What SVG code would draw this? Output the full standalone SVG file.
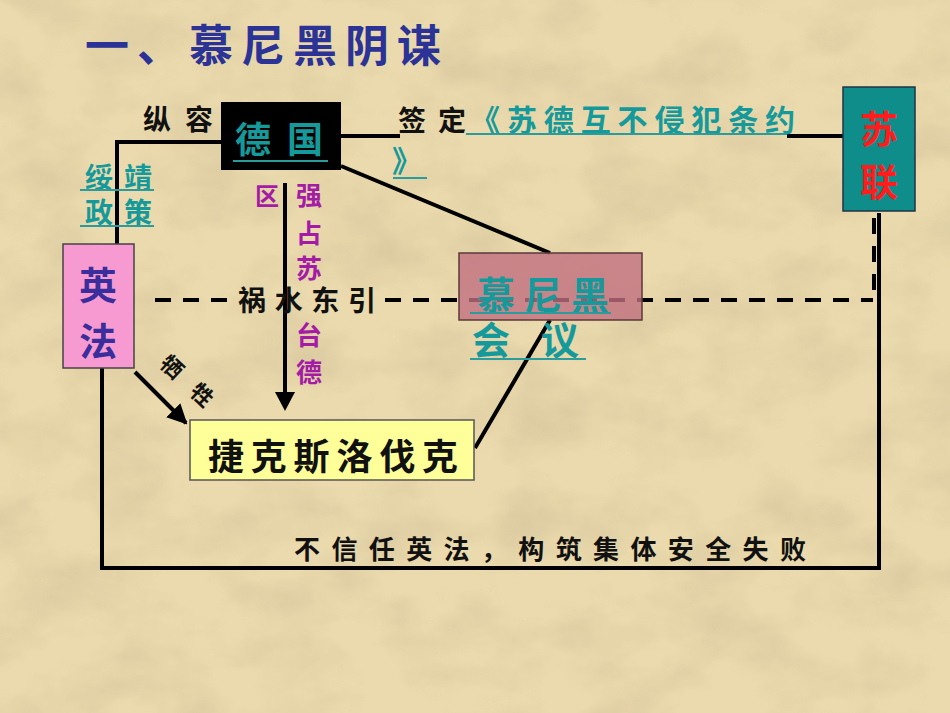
<svg xmlns="http://www.w3.org/2000/svg" width="950" height="713" viewBox="0 0 950 713">
<defs>
<style>
text{font-family:"Noto Sans CJK SC","Noto Sans",sans-serif;font-weight:bold}
.blk{fill:#111}
.teal{fill:#16999a}
.pur{fill:#a41ca6}
.ln{stroke:#000;stroke-width:4;fill:none}
.ul{stroke:#2a9c9c;stroke-width:2;fill:none}
.dash{stroke:#000;stroke-width:4;fill:none;stroke-dasharray:16 12}
</style>
<filter id="tex" x="0" y="0" width="100%" height="100%">
<feTurbulence type="fractalNoise" baseFrequency="0.012 0.018" numOctaves="4" seed="7"/>
<feColorMatrix type="matrix" values="0 0 0 0 0.62  0 0 0 0 0.50  0 0 0 0 0.30  0 0 0 1.6 -0.62"/>
</filter>
<marker id="ah" viewBox="0 0 10 10" refX="9" refY="5" markerWidth="5" markerHeight="5" orient="auto" markerUnits="strokeWidth">
<path d="M0,0 L10,5 L0,10 z" fill="#000"/>
</marker>
</defs>
<rect width="950" height="713" fill="#eadaad"/>
<rect width="950" height="713" filter="url(#tex)" opacity="0.6"/>

<g id="title"><text x="85" y="62" font-size="44" fill="#2b3397" textLength="356" lengthAdjust="spacing">一、慕尼黑阴谋</text></g>

<g id="connectors">
<polyline class="ln" points="221,142 117,142 117,245"/>
<line class="ln" x1="341" y1="136" x2="400" y2="136"/>
<line class="ln" x1="787" y1="136" x2="843" y2="136"/>
<line class="ln" x1="341" y1="166" x2="550" y2="253"/>
<line class="ln" x1="550" y1="320" x2="475" y2="448"/>
<line class="ln" x1="285" y1="183" x2="285" y2="396"/>
<path d="M275,392 L295,392 L285,411 z" fill="#000"/>
<line class="ln" x1="135" y1="372" x2="186" y2="423" stroke-width="3" marker-end="url(#ah)"/>
<polyline class="ln" points="102,368 102,568 879,568 879,213"/>
<line class="dash" x1="155" y1="300" x2="236" y2="300"/>
<line class="dash" x1="385" y1="300" x2="873" y2="300"/>
<line class="dash" x1="874" y1="218" x2="874" y2="290"/>
</g>

<g id="label-zongrong"><text class="blk" x="143" y="130" font-size="28" textLength="70" lengthAdjust="spacing">纵容</text></g>
<g id="label-suijing">
<text class="teal" x="85" y="188" font-size="28" textLength="67" lengthAdjust="spacing">绥靖</text>
<line class="ul" x1="80" y1="190" x2="154" y2="190"/>
<text class="teal" x="85" y="223" font-size="28" textLength="67" lengthAdjust="spacing">政策</text>
<line class="ul" x1="80" y1="226" x2="154" y2="226"/>
</g>
<g id="label-qiang">
<text class="pur" x="255" y="205" font-size="24">区</text>
<g class="pur" font-size="26" text-anchor="middle">
<text x="309" y="205">强</text>
<text x="309" y="243">占</text>
<text x="309" y="278">苏</text>
<text x="309" y="345">台</text>
<text x="309" y="382">德</text>
</g>
</g>
<g id="label-huoshui"><text class="blk" x="238" y="311" font-size="28" textLength="138" lengthAdjust="spacing">祸水东引</text></g>
<g id="label-xisheng"><text class="blk" x="187" y="389" font-size="22" text-anchor="middle" textLength="63" lengthAdjust="spacing" transform="rotate(43 187 381)">牺牲</text></g>
<g id="label-qianding">
<text class="blk" x="398" y="131" font-size="28" textLength="68" lengthAdjust="spacing">签定</text>
<text class="teal" x="470" y="131" font-size="30" textLength="325" lengthAdjust="spacing">《苏德互不侵犯条约</text>
<line class="ul" x1="466" y1="134" x2="787" y2="134"/>
<text class="teal" x="392" y="172" font-size="30">》</text>
<line class="ul" x1="393" y1="178" x2="427" y2="178"/>
</g>
<g id="label-bottom"><text class="blk" x="294" y="559" font-size="26" font-weight="normal" textLength="512" lengthAdjust="spacing">不信任英法，构筑集体安全失败</text></g>

<g id="node-germany">
<rect x="221" y="102" width="120" height="68" fill="#000"/>
<text class="teal" x="235" y="153" font-size="36" textLength="88" lengthAdjust="spacing">德国</text>
<line class="ul" x1="233" y1="161" x2="328" y2="161"/>
</g>
<g id="node-ussr">
<rect x="843" y="87" width="72" height="124" fill="#0f8d8b" stroke="#234" stroke-width="1.5"/>
<text x="879" y="143" font-size="38" fill="#ff1c1c" text-anchor="middle">苏</text>
<text x="879" y="196" font-size="38" fill="#ff1c1c" text-anchor="middle">联</text>
</g>
<g id="node-britfrance">
<rect x="63" y="244" width="71" height="124" fill="#f79ad2" stroke="#444" stroke-width="1.5"/>
<text x="98" y="299" font-size="38" fill="#3a2e9c" text-anchor="middle">英</text>
<text x="98" y="355" font-size="38" fill="#3a2e9c" text-anchor="middle">法</text>
</g>
<g id="node-munich">
<rect x="459" y="253" width="183" height="67" fill="#c06f7f" fill-opacity="0.8" stroke="#5a3a3a" stroke-width="1.5"/>
<text class="teal" x="477" y="309" font-size="38" textLength="132" lengthAdjust="spacing">慕尼黑</text>
<line class="ul" x1="470" y1="313" x2="611" y2="313"/>
<text class="teal" x="472" y="354" font-size="38">会</text>
<text class="teal" x="541" y="354" font-size="38">议</text>
<line class="ul" x1="470" y1="359" x2="586" y2="359"/>
</g>
<g id="node-czech">
<rect x="190" y="420" width="284" height="60" fill="#ffff99" stroke="#555" stroke-width="1.5"/>
<text class="blk" x="208" y="470" font-size="36" textLength="250" lengthAdjust="spacing">捷克斯洛伐克</text>
</g>
</svg>
